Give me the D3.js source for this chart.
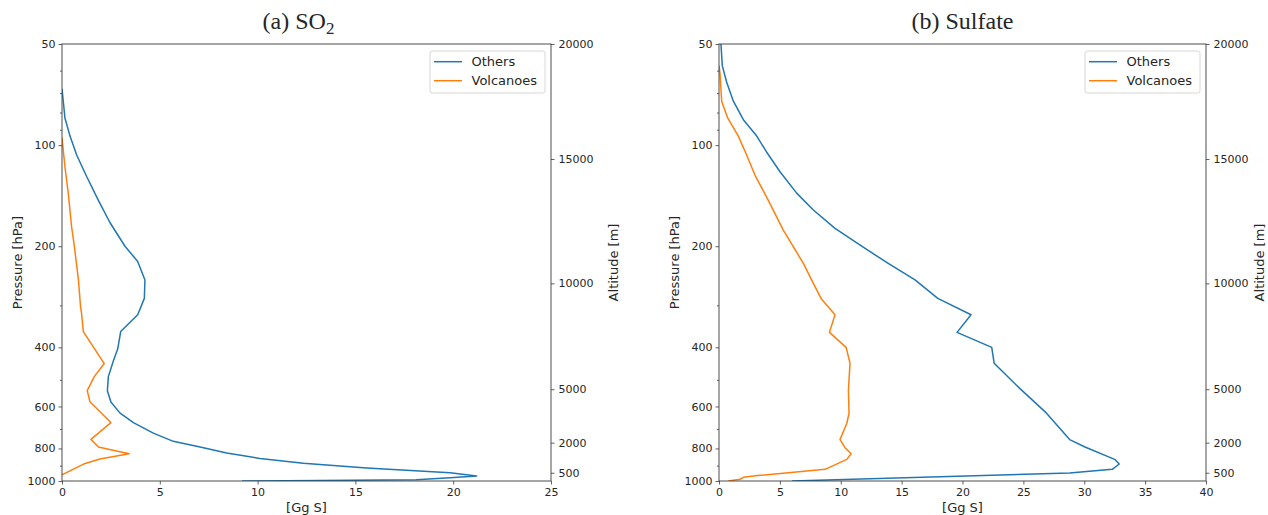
<!DOCTYPE html>
<html>
<head>
<meta charset="utf-8">
<script src="https://cdn.jsdelivr.net/npm/d3@7"></script>
<style>
  html, body { margin: 0; padding: 0; background: #fff; }
  svg { display: block; }
  text { font-family: "DejaVu Sans", sans-serif; fill: #262626; }
</style>
</head>
<body>
<svg id="chart" width="1268" height="515"></svg>
<script>
// Vertical profiles of emissions (Gg S) per pressure level

// SO2 - other sources
const so2OthersP = [68, 83, 94, 107, 124, 146, 170, 200, 222, 252, 286, 320, 359, 404, 440, 489, 539, 582, 628, 670, 720, 762, 792, 825, 857, 885, 915, 945, 966, 978, 992, 1000];
const so2OthersV = [0, 0.15, 0.41, 0.75, 1.26, 1.86, 2.45, 3.22, 3.87, 4.24, 4.21, 3.87, 3.0, 2.85, 2.62, 2.37, 2.32, 2.5, 2.97, 3.65, 4.67, 5.69, 7.06, 8.42, 10.12, 12.34, 15.58, 19.84, 21.2, 19.84, 18.1, 9.2];

// SO2 - volcanoes
const so2VolcP = [95, 116, 139, 175, 200, 252, 303, 317, 359, 447, 489, 538, 581, 670, 752, 792, 830, 860, 888, 958];
const so2VolcV = [0, 0.15, 0.32, 0.49, 0.63, 0.84, 0.95, 1.0, 1.09, 2.16, 1.65, 1.29, 1.43, 2.5, 1.48, 1.86, 3.43, 1.94, 1.15, 0];

// Sulfate - other sources
const sulOthersP = [50, 58, 65, 74, 84, 94, 105, 120, 139, 156, 177, 200, 225, 252, 286, 320, 361, 400, 446, 530, 628, 753, 792, 862, 890, 923, 946, 1000];
const sulOthersV = [0.16, 0.27, 0.63, 1.18, 2.0, 3.1, 3.92, 5.01, 6.38, 7.75, 9.53, 11.72, 13.9, 16.1, 17.97, 20.7, 19.55, 22.4, 22.6, 24.7, 26.9, 28.8, 30.06, 32.5, 32.87, 32.3, 28.8, 6.0];

// Sulfate - volcanoes
const sulVolcP = [58, 61, 74, 83, 94, 107, 123, 146, 179, 225, 258, 286, 320, 361, 400, 446, 537, 628, 673, 753, 796, 830, 862, 923, 962, 975, 988, 1000];
const sulVolcV = [0, 0.08, 0.22, 0.71, 1.59, 2.27, 2.96, 4.05, 5.28, 6.93, 7.75, 8.38, 9.53, 9.07, 10.44, 10.76, 10.63, 10.68, 10.5, 9.94, 10.35, 10.85, 10.5, 8.71, 3.37, 2.0, 1.73, 0.77];

// Axis ticks
const pressureTicks = [50, 100, 200, 400, 600, 800, 1000];
const pressureMinorTicks = [60, 70, 80, 90, 300, 500, 700, 900];
const altitudeTicks = [500, 2000, 5000, 10000, 15000, 20000];
const altitudeTickPressure = [945, 769, 533, 258, 110, 50];
const so2XTicks = [0, 5, 10, 15, 20, 25];
const sulXTicks = [0, 5, 10, 15, 20, 25, 30, 35, 40];

const seriesNames = ["Others", "Volcanoes"];
const seriesColors = ["#1f77b4", "#ff7f0e"];

const svg = d3.select("#chart");
const plotTop = 44, plotBottom = 481;
const tickLen = 3.5;
const axisColor = "#3a3a3a";

function drawPanel(cfg) {
  const { left, right, xMax, xTicks, series, clipId } = cfg;
  const x = d3.scaleLinear().domain([0, xMax]).range([left, right]);
  const y = d3.scaleLog().domain([50, 1000]).range([plotTop, plotBottom]);
  const g = svg.append("g");

  g.append("clipPath").attr("id", clipId)
    .append("rect").attr("x", left).attr("y", plotTop)
    .attr("width", right - left).attr("height", plotBottom - plotTop);

  // profile lines
  const line = d3.line().x(d => x(d[1])).y(d => y(d[0]));
  series.forEach((s, i) => {
    const pts = s.p.map((p, k) => [p, s.v[k]]);
    g.append("path").datum(pts)
      .attr("d", line)
      .attr("fill", "none")
      .attr("stroke", seriesColors[i])
      .attr("stroke-width", 1.5)
      .attr("stroke-linejoin", "round")
      .attr("clip-path", `url(#${clipId})`);
  });

  // bottom axis
  const xAxis = d3.axisBottom(x).tickValues(xTicks).tickSize(tickLen).tickPadding(3.5).tickFormat(d3.format("d"));
  const gx = g.append("g").attr("transform", `translate(0,${plotBottom})`).call(xAxis);

  // left axis: pressure
  const yAxis = d3.axisLeft(y).tickValues(pressureTicks).tickSize(tickLen).tickPadding(3).tickFormat(d3.format("d"));
  const gy = g.append("g").attr("transform", `translate(${left},0)`).call(yAxis);
  const yMinor = d3.axisLeft(y).tickValues(pressureMinorTicks).tickSize(2).tickFormat("");
  const gym = g.append("g").attr("transform", `translate(${left},0)`).call(yMinor);

  // right axis: altitude at the matching pressure levels
  const altMap = new Map(altitudeTickPressure.map((p, i) => [p, altitudeTicks[i]]));
  const yAlt = d3.axisRight(y).tickValues(altitudeTickPressure).tickSize(tickLen).tickPadding(4)
    .tickFormat(p => altMap.get(p));
  const ga = g.append("g").attr("transform", `translate(${right},0)`).call(yAlt);

  [gx, gy, gym, ga].forEach(a => {
    a.select(".domain").remove();
    a.selectAll("line").attr("stroke", axisColor).attr("stroke-width", 0.8);
    a.selectAll("text").attr("font-size", 11).attr("fill", "#262626")
      .style("font-family", "'DejaVu Sans', sans-serif");
  });

  // frame
  g.append("rect").attr("x", left).attr("y", plotTop)
    .attr("width", right - left).attr("height", plotBottom - plotTop)
    .attr("fill", "none").attr("stroke", axisColor).attr("stroke-width", 0.9);

  // axis labels
  g.append("text")
    .attr("transform", `translate(${left - 45},${(plotTop + plotBottom) / 2}) rotate(-90)`)
    .attr("text-anchor", "middle").attr("dominant-baseline", "central")
    .attr("font-size", 13).text("Pressure [hPa]");
  g.append("text")
    .attr("transform", `translate(${Math.min(right + 62, 1259)},${(plotTop + plotBottom) / 2}) rotate(-90)`)
    .attr("text-anchor", "middle").attr("dominant-baseline", "central")
    .attr("font-size", 13).text("Altitude [m]");
  g.append("text")
    .attr("x", (left + right) / 2).attr("y", 512)
    .attr("text-anchor", "middle")
    .attr("font-size", 13).text("[Gg S]");

  // title
  const title = g.append("text")
    .attr("x", (left + right) / 2 + (cfg.titleShift || 0)).attr("y", 29)
    .attr("text-anchor", "middle")
    .style("font-family", "'Liberation Serif', 'Times New Roman', serif")
    .attr("font-size", 24);
  title.append("tspan").text(cfg.title);
  if (cfg.titleSub) {
    title.append("tspan").attr("font-size", 17).attr("dy", 5).text(cfg.titleSub);
  }

  // legend
  const lw = 115, lh = 42;
  const lx = right - 6 - lw, ly = plotTop + 7;
  const leg = g.append("g");
  leg.append("rect").attr("x", lx).attr("y", ly).attr("width", lw).attr("height", lh)
    .attr("rx", 2.5).attr("fill", "#fff").attr("fill-opacity", 0.85)
    .attr("stroke", "#d6d6d6").attr("stroke-width", 1);
  seriesNames.forEach((name, i) => {
    const yy = ly + 10.7 + i * 19;
    leg.append("line").attr("x1", lx + 4).attr("x2", lx + 32).attr("y1", yy).attr("y2", yy)
      .attr("stroke", seriesColors[i]).attr("stroke-width", 1.5);
    leg.append("text").attr("x", lx + 41.5).attr("y", yy).attr("dominant-baseline", "central")
      .attr("font-size", 13).text(name);
  });
}

drawPanel({
  left: 62, right: 551, xMax: 25, xTicks: so2XTicks, clipId: "clipA",
  title: "(a) SO", titleSub: "2", titleShift: -8,
  series: [{ p: so2OthersP, v: so2OthersV }, { p: so2VolcP, v: so2VolcV }]
});

drawPanel({
  left: 719, right: 1206, xMax: 40, xTicks: sulXTicks, clipId: "clipB",
  title: "(b) Sulfate",
  series: [{ p: sulOthersP, v: sulOthersV }, { p: sulVolcP, v: sulVolcV }]
});
</script>
</body>
</html>
